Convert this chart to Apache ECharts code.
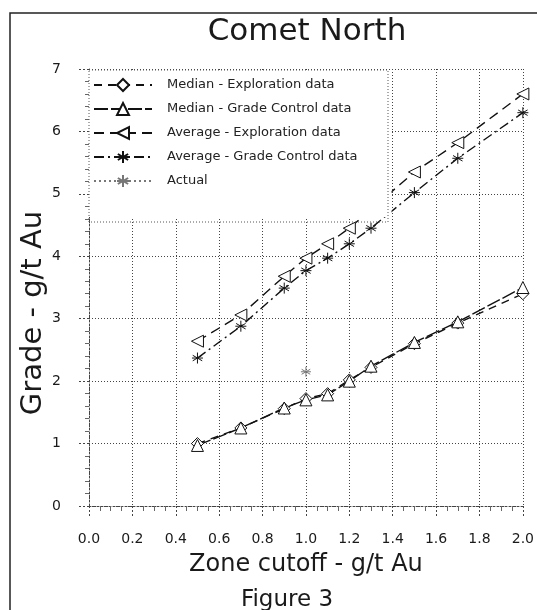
<!DOCTYPE html>
<html>
<head>
<meta charset="utf-8">
<script src="https://cdn.jsdelivr.net/npm/echarts@6/dist/echarts.min.js"></script>
<style>html,body{margin:0;padding:0;background:#fff}#c{width:537px;height:610px}</style>
</head>
<body>
<div id="c"></div>
<script>
// ---- data ----
const xTicks = [0.0,0.2,0.4,0.6,0.8,1.0,1.2,1.4,1.6,1.8,2.0];
const yTicks = [0,1,2,3,4,5,6,7];
const medExpX = [0.5,0.7,0.9,1.0,1.1,1.2,1.3,1.5,1.7,2.0];
const medExpY = [1.00,1.25,1.56,1.72,1.80,2.02,2.22,2.60,2.93,3.40];
const medGcX  = [0.5,0.7,0.9,1.0,1.1,1.2,1.3,1.5,1.7,2.0];
const medGcY  = [0.97,1.25,1.57,1.70,1.78,2.00,2.24,2.62,2.95,3.50];
const avgExpX = [0.5,0.7,0.9,1.0,1.1,1.2,1.5,1.7,2.0];
const avgExpY = [2.64,3.06,3.68,3.97,4.20,4.45,5.35,5.82,6.60];
const avgGcX  = [0.5,0.7,0.9,1.0,1.1,1.2,1.3,1.5,1.7,2.0];
const avgGcY  = [2.37,2.88,3.49,3.77,3.97,4.20,4.45,5.02,5.57,6.30];
const actualX = [1.0];
const actualY = [2.15];
const names = ['Median - Exploration data','Median - Grade Control data','Average - Exploration data','Average - Grade Control data','Actual'];

const pairs = (xs, ys) => xs.map((x, i) => [x, ys[i]]);
const FONT = 'DejaVu Sans';
const ink = '#111';

const leftTri = 'path://M10,0 L10,10 L0,5 Z';
const asterisk = 'path://M5,0 L5,10 M0.7,2.5 L9.3,7.5 M0.7,7.5 L9.3,2.5 M0,5 L10,5';

function mk(name, data, symbol, size, dash, color) {
  return {
    name, type: 'line', data, symbol, symbolSize: size,
    lineStyle: { color: color || ink, width: 1.4, type: dash },
    itemStyle: { color: '#fff', borderColor: color || ink, borderWidth: 1 },
    emphasis: { disabled: true },
    z: 3
  };
}

const chart = echarts.init(document.getElementById('c'), null, { renderer: 'canvas' });
chart.setOption({
  animation: false,
  backgroundColor: '#fff',
  textStyle: { fontFamily: FONT },
  title: [
    { text: 'Comet North', left: 302, top: 11, textAlign: 'center',
      textStyle: { fontFamily: FONT, fontSize: 31, fontWeight: 'normal', color: '#1a1a1a' } },
    { text: 'Figure 3', left: 282, top: 584, textAlign: 'center',
      textStyle: { fontFamily: FONT, fontSize: 23, fontWeight: 'normal', color: '#1a1a1a' } }
  ],
  graphic: [
    { type: 'rect', shape: { x: 10, y: 13, width: 600, height: 700 }, silent: true,
      style: { fill: 'none', stroke: '#222', lineWidth: 1.5 }, z: 0 },
    { type: 'rect', shape: { x: 89, y: 70, width: 299, height: 152 }, silent: true,
      style: { fill: 'none', stroke: '#555', lineWidth: 1, lineDash: [1, 2] }, z: 20 },
    { type: 'text', x: 33, y: 313, rotation: Math.PI / 2, silent: true,
      style: { text: 'Grade - g/t Au', fontFamily: FONT, fontSize: 29, fill: '#1a1a1a',
               align: 'center', verticalAlign: 'middle' } }
  ],
  legend: {
    orient: 'vertical', left: 89, top: 70,
    padding: [8, 34, 29, 4],
    itemGap: 10, itemWidth: 58, itemHeight: 15,
    backgroundColor: '#fff',
    borderWidth: 0,
    textStyle: { fontFamily: FONT, fontSize: 13, color: '#222', padding: [0, 0, 0, 10] },
    data: names,
    z: 10
  },
  grid: { left: 89, top: 69, right: 10, bottom: 104, containLabel: false },
  xAxis: {
    type: 'value', min: 0, max: 2, interval: 0.2,
    name: 'Zone cutoff - g/t Au', nameLocation: 'middle', nameGap: 47,
    nameTextStyle: { fontFamily: FONT, fontSize: 24, color: '#1a1a1a' },
    axisLine: { show: true, lineStyle: { color: '#444', type: [2, 2], width: 1 } },
    axisTick: { show: true, length: 12, lineStyle: { color: '#444', type: [2, 2] } },
    minorTick: { show: true, splitNumber: 4, length: 5, lineStyle: { color: '#666' } },
    axisLabel: { margin: 26, fontFamily: FONT, fontSize: 14, color: '#1a1a1a',
                 formatter: v => v.toFixed(1) },
    splitLine: { show: true, lineStyle: { color: '#444', type: [1, 2], width: 1 } }
  },
  yAxis: {
    type: 'value', min: 0, max: 7, interval: 1,
    axisLine: { show: true, lineStyle: { color: '#444', type: [2, 2], width: 1 } },
    axisTick: { show: true, length: 10, lineStyle: { color: '#444', type: [2, 2] } },
    minorTick: { show: true, splitNumber: 5, length: 4, lineStyle: { color: '#666' } },
    axisLabel: { margin: 28, fontFamily: FONT, fontSize: 14, color: '#1a1a1a' },
    splitLine: { show: true, lineStyle: { color: '#444', type: [1, 2], width: 1 } }
  },
  series: [
    mk(names[0], pairs(medExpX, medExpY), 'diamond', 12, [8, 6]),
    mk(names[1], pairs(medGcX, medGcY), 'triangle', 12, [14, 3]),
    mk(names[2], pairs(avgExpX, avgExpY), leftTri, 12, [10, 6]),
    mk(names[3], pairs(avgGcX, avgGcY), asterisk, 11, [10, 4, 2, 4]),
    mk(names[4], pairs(actualX, actualY), asterisk, 10, [2, 3], '#777')
  ]
});
</script>
</body>
</html>
